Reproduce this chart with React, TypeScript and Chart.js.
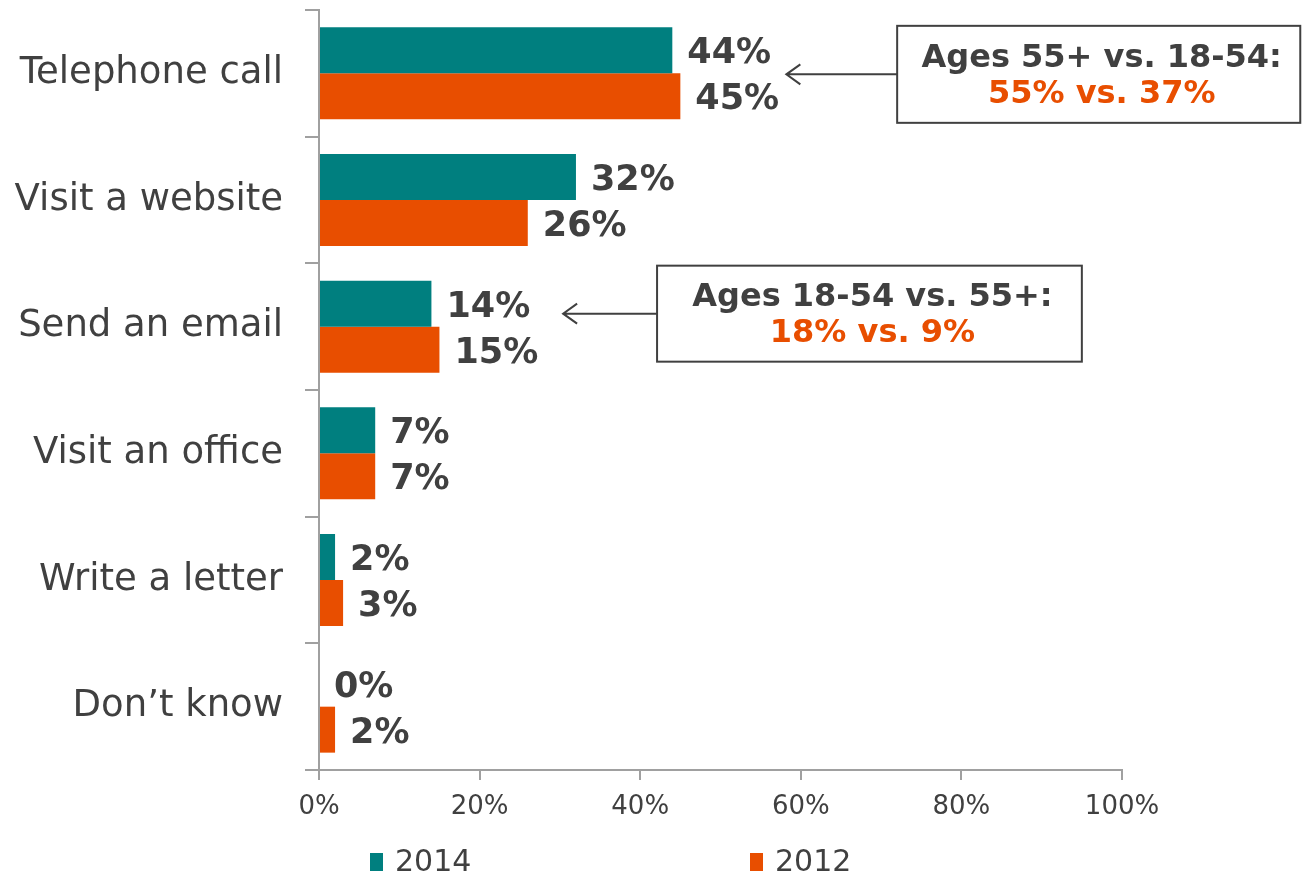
import React, { useEffect, useRef } from "react";
import { Chart, registerables } from "chart.js";

Chart.register(...registerables);

const categories = ["Telephone call", "Visit a website", "Send an email", "Visit an office", "Write a letter", "Don\u2019t know"];
const seriesNames = ["2014", "2012"];
const values2014 = [44, 32, 14, 7, 2, 0];
const values2012 = [45, 26, 15, 7, 3, 2];
const xTicks = [0, 20, 40, 60, 80, 100];

const annotations = [
  { category: 0, line1: "Ages 55+ vs. 18-54:", line2: "55% vs. 37%", boxFrom: 72, boxTo: 122.2, arrowTo: 58.2, dy: 1, h: 97 },
  { category: 2, line1: "Ages 18-54 vs. 55+:", line2: "18% vs. 9%", boxFrom: 42.1, boxTo: 95.0, arrowTo: 30.4, dy: -13, h: 96 },
];

const TEAL = "#007F7F";
const ORANGE = "#E84E00";
const TEXT = "#404040";
const AXIS = "#A0A0A0";
const FONT = "'DejaVu Sans', Verdana, sans-serif";

const labelPlugin = {
  id: "labelsAndNotes",
  afterDatasetsDraw(chart: any) {
    const ctx = chart.ctx;
    ctx.save();
    ctx.font = `bold 35px ${FONT}`;
    ctx.fillStyle = TEXT;
    ctx.textAlign = "left";
    ctx.textBaseline = "middle";
    chart.data.datasets.forEach((ds: any, di: number) => {
      const meta = chart.getDatasetMeta(di);
      meta.data.forEach((bar: any, i: number) => {
        ctx.fillText(ds.data[i] + "%", bar.x + 15, bar.y + 4);
      });
    });
    ctx.restore();
  },
  afterDraw(chart: any) {
    const ctx = chart.ctx;
    const xs = chart.scales.x;
    const ys = chart.scales.y;
    ctx.save();
    annotations.forEach((a) => {
      const cy = ys.getPixelForValue(a.category) + a.dy;
      const x0 = xs.getPixelForValue(a.boxFrom);
      const x1 = xs.getPixelForValue(a.boxTo);
      const tip = xs.getPixelForValue(a.arrowTo);
      ctx.strokeStyle = TEXT;
      ctx.lineWidth = 2;
      ctx.fillStyle = "#ffffff";
      ctx.fillRect(x0, cy - a.h / 2, x1 - x0, a.h);
      ctx.strokeRect(x0, cy - a.h / 2, x1 - x0, a.h);
      ctx.beginPath();
      ctx.moveTo(x0, cy);
      ctx.lineTo(tip, cy);
      ctx.moveTo(tip + 14, cy - 10);
      ctx.lineTo(tip, cy);
      ctx.lineTo(tip + 14, cy + 10);
      ctx.stroke();
      ctx.font = `bold 32px ${FONT}`;
      ctx.textAlign = "center";
      ctx.textBaseline = "middle";
      const cx = (x0 + x1) / 2 + 3;
      ctx.fillStyle = TEXT;
      ctx.fillText(a.line1, cx, cy - 16);
      ctx.fillStyle = ORANGE;
      ctx.fillText(a.line2, cx, cy + 20);
    });
    // legend
    const legendX = [370, 750];
    chart.data.datasets.forEach((ds: any, i: number) => {
      const lx = legendX[i];
      ctx.fillStyle = ds.backgroundColor;
      ctx.fillRect(lx, 853, 13, 18);
      ctx.fillStyle = TEXT;
      ctx.font = `30px ${FONT}`;
      ctx.textAlign = "left";
      ctx.textBaseline = "middle";
      ctx.fillText(ds.label, lx + 25, 863);
    });
    ctx.restore();
  },
};

export default function App() {
  const ref = useRef<HTMLCanvasElement>(null);
  useEffect(() => {
    const chart = new Chart(ref.current!, {
      type: "bar",
      data: {
        labels: categories,
        datasets: [
          { label: seriesNames[0], data: values2014, backgroundColor: TEAL, barPercentage: 1, categoryPercentage: 0.726 },
          { label: seriesNames[1], data: values2012, backgroundColor: ORANGE, barPercentage: 1, categoryPercentage: 0.726 },
        ],
      },
      options: {
        indexAxis: "y",
        animation: false,
        responsive: false,
        maintainAspectRatio: false,
        layout: { padding: { left: 0, right: 180, top: 10, bottom: 0 } },
        plugins: { legend: { display: false }, tooltip: { enabled: false } },
        scales: {
          x: {
            min: 0,
            max: 100,
            afterBuildTicks: (s: any) => { s.ticks = xTicks.map((v) => ({ value: v })); },
            afterFit: (s: any) => { s.height = 108; s.paddingLeft = 0; s.paddingRight = 0; },
            ticks: {
              callback: (v: any) => v + "%",
              font: { family: FONT, size: 26 },
              color: TEXT,
              padding: 12,
              maxRotation: 0,
            },
            grid: { drawOnChartArea: false, drawTicks: true, tickLength: 10, color: AXIS, lineWidth: 2 },
            border: { color: AXIS, width: 2 },
          },
          y: {
            afterFit: (s: any) => { s.width = 319; s.paddingTop = 0; s.paddingBottom = 0; },
            ticks: { font: { family: FONT, size: 37 }, color: TEXT, padding: 22 },
            grid: { drawOnChartArea: false, drawTicks: true, tickLength: 14, color: AXIS, lineWidth: 2, offset: true },
            border: { color: AXIS, width: 2 },
          },
        },
      },
      plugins: [labelPlugin],
    } as any);
    return () => chart.destroy();
  }, []);
  return (
    <div style={{ position: "fixed", left: 0, top: 0, width: 1302, height: 878, background: "#fff" }}>
      <canvas ref={ref} width={1302} height={878} style={{ width: 1302, height: 878 }} />
    </div>
  );
}
